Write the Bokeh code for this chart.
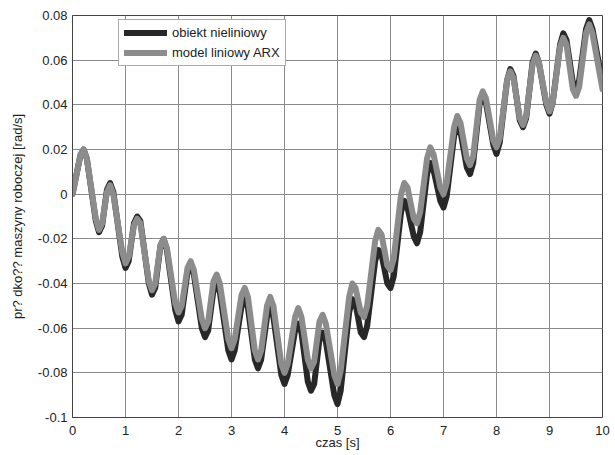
from bokeh.plotting import figure
from bokeh.models import (ColumnDataSource, Legend, LegendItem, FixedTicker,
                          CustomJSTickFormatter, Range1d)
from bokeh.embed import file_html
from bokeh.resources import INLINE

# time instants (s) of the read-off points (around each peak / trough)
t = [0.0,
     0.15, 0.21, 0.27, 0.44, 0.5, 0.56, 0.65, 0.71, 0.77, 0.94, 1.0, 1.06,
     1.16, 1.22, 1.28, 1.44, 1.5, 1.56, 1.66, 1.72, 1.78, 1.94, 2.0, 2.06,
     2.17, 2.23, 2.29, 2.44, 2.5, 2.56, 2.66, 2.72, 2.78, 2.94, 3.0, 3.06,
     3.19, 3.25, 3.31, 3.44, 3.5, 3.56, 3.67, 3.73, 3.79, 3.94, 4.0, 4.06,
     4.2, 4.26, 4.32, 4.44, 4.5, 4.56, 4.66, 4.72, 4.78, 4.94, 5.0, 5.06,
     5.22, 5.28, 5.34, 5.44, 5.5, 5.56, 5.71, 5.77, 5.83, 5.94, 6.0, 6.06,
     6.2, 6.26, 6.32, 6.44, 6.5, 6.56, 6.69, 6.75, 6.81, 6.94, 7.0, 7.06,
     7.2, 7.26, 7.32, 7.44, 7.5, 7.56, 7.68, 7.74, 7.8, 7.94, 8.0, 8.06,
     8.2, 8.26, 8.32, 8.44, 8.5, 8.56, 8.68, 8.74, 8.8, 8.94, 9.0, 9.06,
     9.2, 9.26, 9.32, 9.44, 9.5, 9.56, 9.69, 9.75, 9.81,
     10.0]

# obiekt nieliniowy (dark) [rad/s]
obiekt = [0.0,
          0.0175, 0.020, 0.016, -0.012, -0.017, -0.014, 0.002, 0.005, 0.001,
          -0.028, -0.033, -0.030, -0.013, -0.010, -0.012, -0.040, -0.045, -0.042,
          -0.023, -0.020, -0.025, -0.052, -0.057, -0.054, -0.035, -0.032, -0.036,
          -0.060, -0.064, -0.061, -0.043, -0.040, -0.044, -0.070, -0.074, -0.070,
          -0.050, -0.047, -0.051, -0.074, -0.078, -0.074, -0.055, -0.051, -0.055,
          -0.081, -0.085, -0.081, -0.061, -0.058, -0.062, -0.084, -0.088, -0.085,
          -0.065, -0.062, -0.066, -0.090, -0.094, -0.088, -0.053, -0.047, -0.049,
          -0.062, -0.064, -0.059, -0.030, -0.025, -0.027, -0.040, -0.042, -0.037,
          -0.008, -0.003, -0.006, -0.019, -0.022, -0.017, 0.009, 0.014, 0.011,
          -0.003, -0.006, -0.001, 0.026, 0.031, 0.028, 0.012, 0.009, 0.014,
          0.040, 0.045, 0.041, 0.022, 0.018, 0.023, 0.051, 0.056, 0.053,
          0.033, 0.030, 0.034, 0.059, 0.063, 0.059, 0.040, 0.036, 0.041,
          0.067, 0.072, 0.069, 0.050, 0.047, 0.051, 0.074, 0.078, 0.074,
          0.050]

# model liniowy ARX (gray) [rad/s]
model = [0.0,
         0.0175, 0.020, 0.016, -0.011, -0.016, -0.013, 0.001, 0.004, 0.000,
         -0.026, -0.031, -0.028, -0.014, -0.011, -0.013, -0.039, -0.043, -0.040,
         -0.023, -0.020, -0.024, -0.049, -0.053, -0.050, -0.033, -0.030, -0.034,
         -0.056, -0.060, -0.057, -0.039, -0.036, -0.040, -0.065, -0.069, -0.065,
         -0.045, -0.042, -0.046, -0.070, -0.074, -0.070, -0.050, -0.046, -0.050,
         -0.076, -0.080, -0.076, -0.055, -0.051, -0.055, -0.074, -0.078, -0.075,
         -0.057, -0.054, -0.058, -0.081, -0.085, -0.079, -0.046, -0.040, -0.042,
         -0.053, -0.055, -0.050, -0.021, -0.016, -0.018, -0.032, -0.034, -0.029,
         0.000, 0.005, 0.003, -0.011, -0.013, -0.008, 0.016, 0.021, 0.018,
         0.003, 0.000, 0.005, 0.030, 0.035, 0.032, 0.016, 0.013, 0.017,
         0.042, 0.046, 0.043, 0.024, 0.021, 0.025, 0.051, 0.055, 0.052,
         0.034, 0.031, 0.035, 0.058, 0.062, 0.059, 0.041, 0.037, 0.041,
         0.066, 0.070, 0.067, 0.047, 0.044, 0.048, 0.072, 0.076, 0.072,
         0.047]

x_ticks = [0, 1, 2, 3, 4, 5, 6, 7, 8, 9, 10]
y_ticks = [-0.1, -0.08, -0.06, -0.04, -0.02, 0.0, 0.02, 0.04, 0.06, 0.08]

FONT = "Liberation Sans"

p = figure(width=610, height=454, output_backend="svg", toolbar_location=None,
           x_range=Range1d(0, 10), y_range=Range1d(-0.1, 0.08),
           min_border_left=72, min_border_right=8, min_border_top=15,
           min_border_bottom=37)

src = ColumnDataSource(dict(t=t, obiekt=obiekt, model=model))
r1 = p.line("t", "obiekt", source=src, line_color="#282828", line_width=6,
            line_join="round", line_cap="round")
r2 = p.line("t", "model", source=src, line_color="#8c8c8c", line_width=6,
            line_join="round", line_cap="round")

p.xaxis.ticker = FixedTicker(ticks=x_ticks)
p.yaxis.ticker = FixedTicker(ticks=y_ticks)
p.yaxis.formatter = CustomJSTickFormatter(code="return String(Number(tick.toFixed(2)));")

for ax in (p.xaxis[0], p.yaxis[0]):
    ax.major_label_text_font = FONT
    ax.major_label_text_font_size = "13px"
    ax.major_label_text_color = "#222222"
    ax.axis_label_text_font = FONT
    ax.axis_label_text_font_size = "13px"
    ax.axis_label_text_font_style = "normal"
    ax.axis_label_text_color = "#222222"
    ax.major_tick_out = 0
    ax.major_tick_in = 0
    ax.minor_tick_out = 0
    ax.minor_tick_in = 0
    ax.axis_line_color = "#444444"

p.xaxis.axis_label = "czas [s]"
p.yaxis.axis_label = "pr? dko?? maszyny roboczej [rad/s]"
p.xaxis.major_label_standoff = 8
p.xaxis.axis_label_standoff = -3
p.yaxis.major_label_standoff = 5
p.yaxis.axis_label_standoff = 10

p.grid.grid_line_color = "#8a8a8a"
p.grid.grid_line_width = 1
p.outline_line_color = "#444444"
p.outline_line_width = 1

legend = Legend(items=[LegendItem(label="obiekt nieliniowy", renderers=[r1]),
                       LegendItem(label="model liniowy ARX", renderers=[r2])],
                location=(46, 351), orientation="vertical")
legend.label_text_font = FONT
legend.label_text_font_size = "13px"
legend.label_text_color = "#222222"
legend.glyph_width = 43
legend.glyph_height = 15
legend.label_height = 15
legend.label_standoff = 5
legend.padding = 5
legend.spacing = 5
legend.margin = 0
legend.border_line_color = "#555555"
legend.border_line_width = 1
legend.background_fill_alpha = 1
p.add_layout(legend, "center")

open("out.html", "w").write(file_html(p, INLINE))
